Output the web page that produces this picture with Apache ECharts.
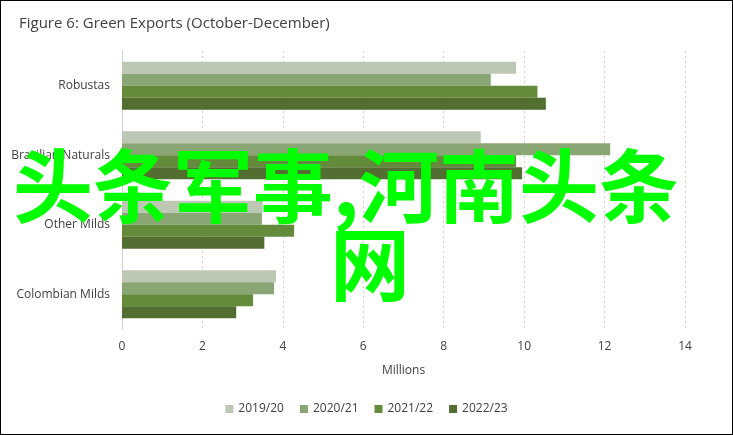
<!DOCTYPE html>
<html>
<head>
<meta charset="utf-8">
<script src="https://cdn.jsdelivr.net/npm/echarts@6/dist/echarts.min.js"></script>
<style>
    html, body { margin: 0; padding: 0; background: #fff; }
    #main { width: 733px; height: 435px; box-sizing: border-box; border: 1px solid #000; }
</style>
</head>
<body>
<div id="main"></div>
<script>
// 类别（从上到下）
let categories = ['Robustas', 'Brazilian Naturals', 'Other Milds', 'Colombian Milds'];

// 各年度数据（百万）
let seriesNames = ['2019/20', '2020/21', '2021/22', '2022/23'];
let v2019 = [9.8, 8.92, 3.5, 3.83];
let v2020 = [9.17, 12.14, 3.48, 3.78];
let v2021 = [10.33, 9.8, 4.28, 3.26];
let v2022 = [10.54, 9.95, 3.54, 2.84];

let xTicks = [0, 2, 4, 6, 8, 10, 12, 14];

let colors = ['#bdc8b4', '#8ba675', '#648a3c', '#526e30'];
let font = '"Liberation Sans Narrow", "Open Sans", sans-serif';

let chart = echarts.init(document.getElementById('main'));

let allValues = [v2019, v2020, v2021, v2022];
let series = [];
for (let i = 0; i < seriesNames.length; i++) {
    series.push({
        name: seriesNames[i],
        type: 'bar',
        data: allValues[i],
        barGap: '0%',
        barCategoryGap: '31%',
        itemStyle: { color: colors[i] }
    });
}

let option = {
    animation: false,
    color: colors,
    textStyle: { fontFamily: font },
    title: {
        text: 'Figure 6: Green Exports (October-December)',
        left: 13,
        top: 10,
        textStyle: { fontFamily: font, fontSize: 15, fontWeight: 'normal', color: '#404040' }
    },
    grid: {
        left: 121,
        right: 47,
        top: 50,
        bottom: 105
    },
    legend: {
        data: seriesNames,
        bottom: 14,
        left: 'center',
        icon: 'rect',
        itemWidth: 8,
        itemHeight: 8,
        itemGap: 16,
        textStyle: { fontFamily: font, fontSize: 12, color: '#404040' }
    },
    xAxis: {
        type: 'value',
        min: xTicks[0],
        max: xTicks[xTicks.length - 1],
        interval: 2,
        name: 'Millions',
        nameLocation: 'middle',
        nameGap: 36,
        nameTextStyle: { fontFamily: font, fontSize: 12, color: '#404040' },
        axisLine: { show: false },
        axisTick: { show: false },
        axisLabel: { fontFamily: font, fontSize: 12, color: '#404040', margin: 12 },
        splitLine: {
            show: true,
            lineStyle: { color: '#d0d0d0', type: [2, 3], width: 1 }
        }
    },
    yAxis: {
        type: 'category',
        data: categories,
        inverse: true,
        axisLine: { show: true, lineStyle: { color: '#d0d0d0', width: 1 } },
        axisTick: { show: false },
        axisLabel: { fontFamily: font, fontSize: 12, color: '#404040', margin: 12 }
    },
    series: series,
    graphic: [
        {
            type: 'text',
            left: 12,
            top: 145,
            z: 100,
            style: {
                text: '头条军事,河南头条',
                font: 'bold 80px "Noto Sans CJK SC"',
                fill: '#00ff00'
            }
        },
        {
            type: 'text',
            left: 329,
            top: 223,
            z: 100,
            style: {
                text: '网',
                font: 'bold 80px "Noto Sans CJK SC"',
                fill: '#00ff00'
            }
        }
    ]
};

chart.setOption(option);
</script>
</body>
</html>
